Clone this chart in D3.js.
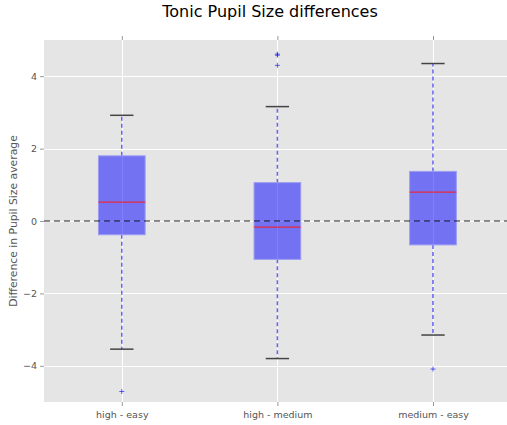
<!DOCTYPE html>
<html>
<head>
<meta charset="utf-8">
<script src="https://cdn.jsdelivr.net/npm/d3@7"></script>
<style>
  html, body { margin: 0; padding: 0; background: #fff; }
  svg { display: block; font-family: "DejaVu Sans", sans-serif; }
</style>
</head>
<body>
<svg id="chart" width="507" height="425"></svg>
<script>
// Box-plot summaries of pupil size differences per condition pair
const categories = ["high - easy", "high - medium", "medium - easy"];
const q1 = [-0.38, -1.06, -0.66];
const medians = [0.52, -0.17, 0.80];
const q3 = [1.80, 1.06, 1.37];
const whiskerLow = [-3.54, -3.80, -3.15];
const whiskerHigh = [2.92, 3.16, 4.35];
const outliers = [[-4.71], [4.61, 4.58, 4.30], [-4.09]];
const yTicks = [-4, -2, 0, 2, 4];

const svg = d3.select("#chart");
const plotLeft = 44, plotTop = 40, plotBottom = 402, unit = 155.6;
const plotRight = plotLeft + 3 * unit;

const x = d3.scaleLinear().domain([0.5, 3.5]).range([plotLeft, plotRight]);
const y = d3.scaleLinear().domain([-5, 5]).range([plotBottom, plotTop]);

// plot background
svg.append("rect")
  .attr("x", plotLeft).attr("y", plotTop)
  .attr("width", plotRight - plotLeft).attr("height", plotBottom - plotTop)
  .attr("fill", "#e5e5e5");

// grid
const grid = svg.append("g").attr("stroke", "#ffffff").attr("stroke-width", 1);
grid.selectAll("line.h").data(yTicks).join("line").attr("class", "h")
  .attr("x1", plotLeft).attr("x2", plotRight)
  .attr("y1", d => Math.round(y(d)) + 0.5).attr("y2", d => Math.round(y(d)) + 0.5);
grid.selectAll("line.v").data(categories).join("line").attr("class", "v")
  .attr("x1", (d, i) => Math.round(x(i + 1)) + 0.5).attr("x2", (d, i) => Math.round(x(i + 1)) + 0.5)
  .attr("y1", plotTop).attr("y2", plotBottom);

// axes (ticks outward, no domain line)
const axisColor = "#555555";
const yAxis = svg.append("g")
  .attr("transform", `translate(${plotLeft},0)`)
  .call(d3.axisLeft(y).tickValues(yTicks).tickSize(4).tickPadding(3)
    .tickFormat(d => d < 0 ? "\u2212" + Math.abs(d) : String(d)));
const xAxis = svg.append("g")
  .attr("transform", `translate(0,${plotBottom})`)
  .call(d3.axisBottom(x).tickValues([1, 2, 3]).tickSize(4).tickPadding(5)
    .tickFormat(d => categories[d - 1]));
const xAxisTop = svg.append("g")
  .attr("transform", `translate(0,${plotTop})`)
  .call(d3.axisTop(x).tickValues([1, 2, 3]).tickSize(4).tickFormat(""));
[yAxis, xAxis, xAxisTop].forEach(g => {
  g.select(".domain").remove();
  g.selectAll(".tick line").attr("stroke", "#999999");
  g.selectAll(".tick text").attr("fill", axisColor)
    .style("font-family", "DejaVu Sans, sans-serif").style("font-size", "9.5px");
});

// boxes
const boxW = 0.3, capW = 0.15;
const boxes = svg.append("g");
categories.forEach((c, i) => {
  const cx = x(i + 1);
  const g = boxes.append("g");
  // whiskers
  g.append("line")
    .attr("x1", cx).attr("x2", cx)
    .attr("y1", y(q3[i])).attr("y2", y(whiskerHigh[i]))
    .attr("stroke", "#0000ff").attr("stroke-opacity", 0.6)
    .attr("stroke-width", 1.5).attr("stroke-dasharray", "4,3");
  g.append("line")
    .attr("x1", cx).attr("x2", cx)
    .attr("y1", y(q1[i])).attr("y2", y(whiskerLow[i]))
    .attr("stroke", "#0000ff").attr("stroke-opacity", 0.6)
    .attr("stroke-width", 1.5).attr("stroke-dasharray", "4,3");
  // caps
  [whiskerLow[i], whiskerHigh[i]].forEach(v => {
    g.append("line")
      .attr("x1", x(i + 1 - capW / 2)).attr("x2", x(i + 1 + capW / 2))
      .attr("y1", y(v)).attr("y2", y(v))
      .attr("stroke", "#444444").attr("stroke-width", 1.5);
  });
  // box
  g.append("rect")
    .attr("x", x(i + 1 - boxW / 2)).attr("y", y(q3[i]))
    .attr("width", x(i + 1 + boxW / 2) - x(i + 1 - boxW / 2))
    .attr("height", y(q1[i]) - y(q3[i]))
    .attr("fill", "#0000ff").attr("fill-opacity", 0.5)
    .attr("stroke", "#9c9cf2").attr("stroke-width", 1);
  // median
  g.append("line")
    .attr("x1", x(i + 1 - boxW / 2)).attr("x2", x(i + 1 + boxW / 2))
    .attr("y1", y(medians[i])).attr("y2", y(medians[i]))
    .attr("stroke", "#e8283c").attr("stroke-width", 1.3);
  // outliers
  outliers[i].forEach(v => {
    const py = y(v);
    g.append("path")
      .attr("d", `M${cx - 2.5},${py}H${cx + 2.5}M${cx},${py - 2.5}V${py + 2.5}`)
      .attr("stroke", "#0000ff").attr("stroke-opacity", 0.6).attr("stroke-width", 1);
  });
});

// zero reference line
svg.append("line")
  .attr("x1", plotLeft).attr("x2", plotRight)
  .attr("y1", y(0)).attr("y2", y(0))
  .attr("stroke", "#000000").attr("stroke-opacity", 0.85)
  .attr("stroke-width", 1.2).attr("stroke-dasharray", "6,4");

// title and axis label
svg.append("text")
  .attr("x", 270).attr("y", 17)
  .attr("text-anchor", "middle")
  .style("font-size", "16px").attr("fill", "#000")
  .text("Tonic Pupil Size differences");
svg.append("text")
  .attr("transform", `translate(17,${y(0)}) rotate(-90)`)
  .attr("text-anchor", "middle")
  .style("font-size", "10.8px").attr("fill", axisColor)
  .text("Difference in Pupil Size average");
</script>
</body>
</html>
